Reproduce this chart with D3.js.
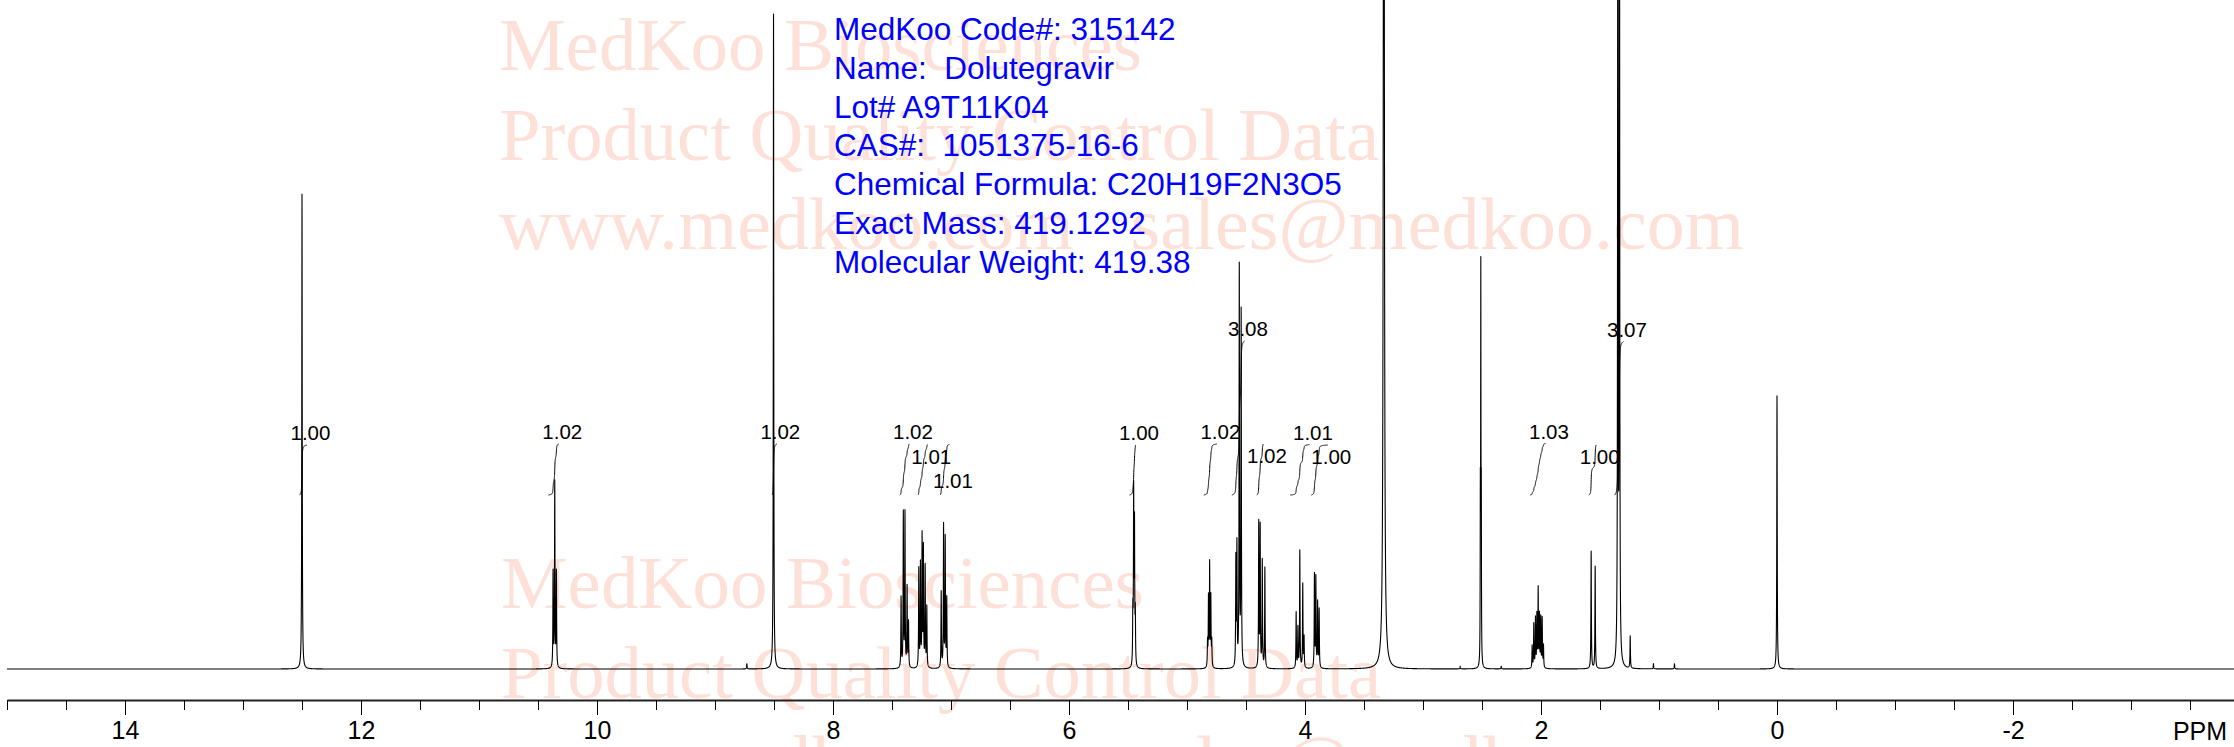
<!DOCTYPE html>
<html>
<head>
<meta charset="utf-8">
<script src="https://cdn.jsdelivr.net/npm/d3@7"></script>
<style>
html,body{margin:0;padding:0;background:#fff;overflow:hidden}
svg{display:block}
</style>
</head>
<body>
<svg id="chart" width="2234" height="747"></svg>
<script>
// ---------------- DATA ----------------
const infoLines = [
  "MedKoo Code#: 315142",
  "Name:  Dolutegravir",
  "Lot# A9T11K04",
  "CAS#:  1051375-16-6",
  "Chemical Formula: C20H19F2N3O5",
  "Exact Mass: 419.1292",
  "Molecular Weight: 419.38"
];
const watermarkLines = [
  "MedKoo Biosciences",
  "Product Quality Control Data",
  "www.medkoo.com   sales@medkoo.com"
];
const majorTicks = [14, 12, 10, 8, 6, 4, 2, 0, -2];
const axisUnitLabel = "PPM";

// peak list: [chemical shift (ppm), relative intensity (8.50 ppm singlet = 100)]
const peaks = [
  [12.500, 72.5],
  [10.372, 14.5], [10.358, 28.2], [10.344, 14.5],
  [8.730, 0.8],
  [8.504, 100],
  [7.423, 10.7], [7.404, 23.5], [7.390, 23.5], [7.372, 12.2], [7.360, 6.9],
  [7.273, 15.0], [7.259, 15.6], [7.245, 19.8], [7.234, 18.0], [7.219, 15.3], [7.205, 9.2],
  [7.083, 11.6], [7.063, 21.7], [7.049, 19.7], [7.036, 10.5],
  [5.459, 7.9], [5.452, 26.0], [5.445, 20.8], [5.438, 7.6],
  [4.826, 3.8], [4.818, 10.5], [4.808, 15.6], [4.798, 10.5], [4.790, 3.8],
  [4.586, 16.3], [4.577, 18.2], [4.557, 60.8], [4.541, 54.0],
  [4.392, 22.0], [4.380, 21.4], [4.362, 16.3], [4.340, 15.3],
  [4.075, 8.5], [4.060, 6.1], [4.044, 17.9], [4.019, 12.8], [4.008, 4.6],
  [3.920, 14.2], [3.908, 13.7], [3.893, 9.9], [3.880, 8.9],
  [3.332, 229],
  [2.685, 0.4],
  [2.514, 22.9], [2.510, 57.3], [2.506, 22.9],
  [2.337, 0.4],
  [2.075, 3.4], [2.061, 6.7], [2.047, 7.5], [2.035, 7.9], [2.024, 11.9],
  [2.013, 7.9], [2.002, 7.5], [1.990, 7.5], [1.979, 3.4],
  [1.575, 17.9], [1.541, 15.6],
  [1.349, 152.7], [1.335, 149.6],
  [1.244, 4.9],
  [1.047, 0.8], [0.869, 0.8],
  [0.000, 41.7]
];
// half width at half maximum (ppm); peaks not listed use the default
const defaultHwhm = 0.0022;
const peakHwhm = {3.332: 0.004, 2.514: 0.0015, 2.510: 0.0015, 2.506: 0.0015};

// integrals
const integralStart = [12.521, 10.411, 8.515, 7.434, 7.278, 7.092, 5.487, 4.858, 4.620, 4.408, 4.125, 3.947, 2.092, 1.595, 1.377];
const integralEnd   = [12.458, 10.324, 8.476, 7.352, 7.197, 7.013, 5.436, 4.747, 4.513, 4.352, 3.962, 3.807, 1.962, 1.532, 1.301];
const integralValue = [1.00, 1.02, 1.02, 1.02, 1.01, 1.01, 1.00, 1.02, 3.08, 1.02, 1.01, 1.00, 1.03, 1.00, 3.07];
const integralLabelRow = [0, 0, 0, 0, 1, 2, 0, 0, 0, 1, 0, 1, 0, 1, 0];

// ---------------- LAYOUT ----------------
const W = 2234, H = 747;
const baseY = 669, axisY = 700;
const svg = d3.select("#chart");
svg.append("rect").attr("width", W).attr("height", H).attr("fill", "#fff");

const x = d3.scaleLinear().domain([15, -3.9]).range([7, 7 + 18.9 * 118]);
const y = d3.scaleLinear().domain([0, 100]).range([baseY, 14]);
const yInt = d3.scaleLinear().domain([0, 1]).range([495, 445]);

// watermark
const wmColor = "#fde0d7";
const wmWidths = [643, 880, 1245];
function watermark(x0, y0) {
  const g = svg.append("g")
    .attr("font-family", "'Liberation Serif','Times New Roman',serif")
    .attr("font-size", 75).attr("fill", wmColor);
  watermarkLines.forEach((t, i) => {
    g.append("text").attr("x", x0).attr("y", y0 + i * 89.5)
      .attr("textLength", wmWidths[i]).attr("lengthAdjust", "spacingAndGlyphs")
      .style("white-space", "pre").text(t);
  });
}
watermark(499, 70);
watermark(501, 608);

// spectrum
const grid = [];
for (let i = 0; ; i++) {
  const p = 15 - i * 0.0005;
  if (p < -3.9) break;
  grid.push(+p.toFixed(4));
}
peaks.forEach(pk => grid.push(pk[0]));
grid.sort((a, b) => b - a);
const spec = grid.map(p => {
  let s = 0;
  for (const [c, h] of peaks) {
    const w = peakHwhm[c] || defaultHwhm;
    const d = p - c;
    s += h * w * w / (d * d + w * w);
  }
  return [p, s];
});

const line = d3.line().x(d => x(d[0])).y(d => y(d[1]));
svg.append("path").datum(spec).attr("d", line)
  .attr("fill", "none").attr("stroke", "#000").attr("stroke-width", 1.1)
  .attr("stroke-linejoin", "round");

// integrals
const intG = svg.append("g");
integralStart.forEach((a, i) => {
  const b = integralEnd[i];
  const pts = spec.filter(d => d[0] <= a && d[0] >= b);
  let cum = 0; const cums = [0];
  for (let k = 1; k < pts.length; k++) {
    cum += (pts[k - 1][1] + pts[k][1]) / 2 * (pts[k - 1][0] - pts[k][0]);
    cums.push(cum);
  }
  const curve = pts.map((d, k) => [x(d[0]), yInt(cums[k] / cum * integralValue[i])]);
  intG.append("path").attr("d", d3.line()(curve))
    .attr("fill", "none").attr("stroke", "#000").attr("stroke-width", 1);
  intG.append("text")
    .attr("x", x(b) + 3.5)
    .attr("y", yInt(integralValue[i]) - 5 + integralLabelRow[i] * 24)
    .attr("text-anchor", "middle")
    .attr("font-family", "'Liberation Sans',Arial,sans-serif")
    .attr("font-size", 20.5).attr("fill", "#000")
    .text(d3.format(".2f")(integralValue[i]));
});

// info text
const info = svg.append("g")
  .attr("font-family", "'Liberation Sans',Arial,sans-serif")
  .attr("font-size", 31.5).attr("fill", "#0000ff");
infoLines.forEach((t, i) => {
  info.append("text").attr("x", 834).attr("y", 40 + i * 38.8)
    .style("white-space", "pre").text(t);
});

// axis
const minorTicks = d3.range(15, -3.51, -0.5);
svg.append("g").attr("transform", `translate(0,${axisY})`)
  .call(d3.axisBottom(x).tickValues(minorTicks).tickSize(10).tickSizeOuter(0).tickFormat(""))
  .call(g => g.select(".domain").attr("stroke", "#222").attr("stroke-width", 2))
  .call(g => g.selectAll(".tick line").attr("stroke", "#000"));
const major = svg.append("g").attr("transform", `translate(0,${axisY})`)
  .call(d3.axisBottom(x).tickValues(majorTicks).tickSize(15).tickSizeOuter(0).tickPadding(6)
    .tickFormat(d => String(d)));
major.select(".domain").remove();
major.attr("font-family", "'Liberation Sans',Arial,sans-serif").attr("font-size", 25);
major.selectAll(".tick line").attr("stroke", "#000");
major.selectAll(".tick text").attr("fill", "#000");
svg.append("text").attr("x", 2200).attr("y", 739.5).attr("text-anchor", "middle")
  .attr("font-family", "'Liberation Sans',Arial,sans-serif").attr("font-size", 25)
  .attr("fill", "#000").text(axisUnitLabel);
</script>
</body>
</html>
